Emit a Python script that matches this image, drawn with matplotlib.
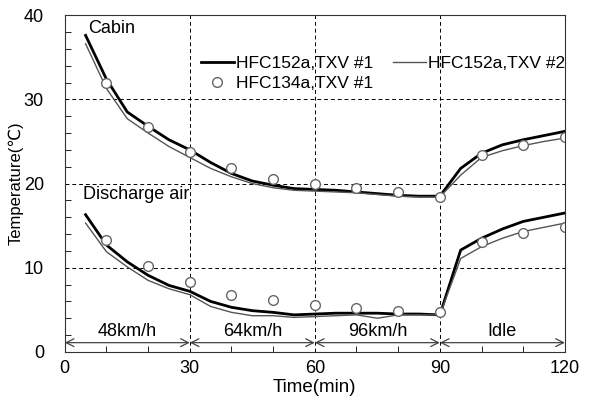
import matplotlib
matplotlib.use("Agg")
import matplotlib.pyplot as plt
import numpy as np

plt.rcParams['font.family'] = ['Liberation Sans', 'DejaVu Sans', 'Noto Sans CJK KR']

# time axis for the simulated lines
t_line = [5, 10, 15, 20, 25, 30, 35, 40, 45, 50, 55, 60, 65, 70, 75, 80, 85, 90,
          95, 100, 105, 110, 115, 120]
cabin_txv1 = [37.6, 32.4, 28.5, 26.8, 25.2, 24.0, 22.5, 21.2, 20.3, 19.8, 19.4, 19.3,
              19.2, 19.0, 18.8, 18.6, 18.5, 18.5, 21.8, 23.6, 24.6, 25.2, 25.7, 26.2]
cabin_txv2 = [36.6, 31.3, 27.7, 26.0, 24.4, 23.1, 21.8, 20.8, 20.0, 19.5, 19.2, 19.1,
              19.0, 18.9, 18.7, 18.5, 18.4, 18.4, 21.0, 23.1, 23.9, 24.5, 25.0, 25.4]
dis_txv1 = [16.3, 12.7, 10.7, 9.1, 7.9, 7.2, 6.0, 5.3, 4.9, 4.7, 4.4, 4.5,
            4.6, 4.6, 4.6, 4.5, 4.5, 4.4, 12.1, 13.5, 14.6, 15.5, 16.0, 16.5]
dis_txv2 = [15.3, 11.9, 10.1, 8.5, 7.5, 6.8, 5.4, 4.7, 4.3, 4.3, 4.1, 4.2,
            4.3, 4.4, 4.0, 4.4, 4.4, 4.4, 11.1, 12.5, 13.5, 14.3, 14.8, 15.3]

# HFC134a measured points
t_pts = [10, 20, 30, 40, 50, 60, 70, 80, 90, 100, 110, 120]
cabin_134a = [32.0, 26.7, 23.7, 21.8, 20.5, 20.0, 19.5, 19.0, 18.4, 23.4, 24.6, 25.5]
dis_134a = [13.3, 10.2, 8.3, 6.8, 6.2, 5.6, 5.2, 4.9, 4.7, 13.0, 14.1, 14.8]

phases = ['48km/h', '64km/h', '96km/h', 'Idle']
phase_edges = [0, 30, 60, 90, 120]

fig = plt.figure(figsize=(5.94, 3.99), dpi=100)
ax = fig.add_axes([0.109, 0.118, 0.842, 0.844])

l1, = ax.plot(t_line, cabin_txv1, color='black', lw=2.0, label='HFC152a,TXV #1')
ax.plot(t_line, dis_txv1, color='black', lw=2.0)
l2, = ax.plot(t_line, cabin_txv2, color='#555555', lw=1.0, label='HFC152a,TXV #2')
ax.plot(t_line, dis_txv2, color='#555555', lw=1.0)
l3, = ax.plot(t_pts, cabin_134a, 'o', mfc='white', mec='#666666', ms=7, mew=1.0,
              ls='none', label='HFC134a,TXV #1')
ax.plot(t_pts, dis_134a, 'o', mfc='white', mec='#666666', ms=7, mew=1.0, ls='none')

# phase arrows
for i in range(len(phases)):
    a, b = phase_edges[i], phase_edges[i + 1]
    ax.annotate('', xy=(a, 1.1), xytext=(b, 1.1),
                arrowprops=dict(arrowstyle='<->', color='#444444', lw=0.9,
                                shrinkA=0, shrinkB=0, mutation_scale=14))
    ax.text((a + b) / 2, 2.4, phases[i], ha='center', va='center', fontsize=13)

ax.text(5.5, 38.4, 'Cabin', fontsize=13, va='center')
ax.text(4.3, 18.7, 'Discharge air', fontsize=13, va='center')

ax.set_xlim(0, 120)
ax.set_ylim(0, 40)
ax.set_xticks([0, 30, 60, 90, 120])
ax.set_yticks([0, 10, 20, 30, 40])
ax.set_xticks(np.arange(0, 121, 10), minor=True)
ax.set_yticks(np.arange(0, 41, 2), minor=True)
ax.tick_params(which='both', direction='in', labelsize=13)
ax.tick_params(which='major', length=0)
ax.tick_params(axis='x', which='major', pad=6)
ax.tick_params(axis='y', which='major', pad=15)
ax.tick_params(which='minor', length=4)
ax.grid(True, which='major', color='black', ls=(0, (4, 3)), lw=0.7)

ax.set_xlabel('Time(min)', fontsize=13.5, labelpad=1)
ax.set_ylabel('Temperature(℃)', fontsize=12, labelpad=0)

leg = ax.legend(handles=[l1, l3, l2], ncol=2, frameon=False, fontsize=12.5,
                loc='upper right', bbox_to_anchor=(1.025, 0.915),
                handlelength=1.9, columnspacing=1.1, handletextpad=0.15,
                labelspacing=0.3, borderpad=0.2)
for sp in ax.spines.values():
    sp.set_color('#333333')

fig.savefig('out.png', dpi=100)
